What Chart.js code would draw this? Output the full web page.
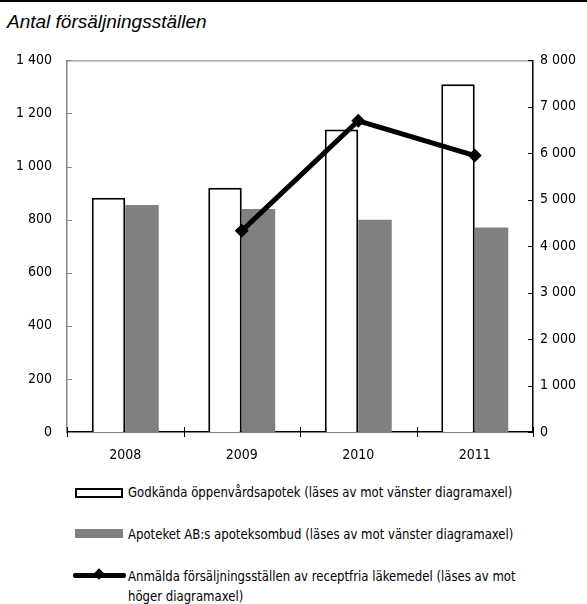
<!DOCTYPE html>
<html>
<head>
<meta charset="utf-8">
<script src="https://cdn.jsdelivr.net/npm/chart.js@4"></script>
<style>
  body { margin: 0; background: #fff; width: 587px; height: 604px; position: relative; overflow: hidden; }
  #topline { position: absolute; left: 0; top: 0; width: 587px; height: 2px; background: #000; }
  #title { position: absolute; left: 7px; top: 11px; font: italic 19px "Liberation Sans", Arial, sans-serif; color: #000; }
  #wrap { position: absolute; left: 0; top: 37px; width: 587px; height: 432px; }
  .lg { position: absolute; left: 128px; font: 14px "Liberation Sans Narrow", "DejaVu Sans Condensed", sans-serif; color: #000; line-height: 20px; white-space: nowrap; transform: scaleX(0.93); transform-origin: 0 0; }
  .sym { position: absolute; }
</style>
</head>
<body>
<div id="topline"></div>
<div id="title">Antal försäljningsställen</div>
<div id="wrap"><canvas id="chart"></canvas></div>

<div class="sym" style="left:75px;top:488px;width:44px;height:6px;border:2px solid #000;background:#fff"></div>
<div class="lg" style="top:482px">Godkända öppenvårdsapotek (läses av mot vänster diagramaxel)</div>

<div class="sym" style="left:75px;top:529px;width:48px;height:9px;background:#808080"></div>
<div class="lg" style="top:524px">Apoteket AB:s apoteksombud (läses av mot vänster diagramaxel)</div>

<div class="sym" style="left:73px;top:573px;width:53px;height:5px;background:#000;border-radius:2px"></div>
<div class="sym" style="left:95px;top:570px;width:8px;height:8px;background:#000;transform:rotate(45deg)"></div>
<div class="lg" style="top:566px">Anmälda försäljningsställen av receptfria läkemedel (läses av mot<br>höger diagramaxel)</div>

<script>
const years = ["2008", "2009", "2010", "2011"];
const apotek = [883, 920, 1140, 1310];
const ombud = [855, 840, 800, 770];
const anmalda = [null, 4330, 6700, 5950];

const leftTicks = [0, 200, 400, 600, 800, 1000, 1200, 1400];
const rightTicks = [0, 1000, 2000, 3000, 4000, 5000, 6000, 7000, 8000];

const tickFont = { family: "'Liberation Sans Narrow', 'DejaVu Sans Condensed', sans-serif", size: 14 };

function fmt(v) {
    return String(v).replace(/\B(?=(\d{3})+(?!\d))/g, " ");
}

// top frame line and the little inside tick marks
const frame = {
    id: 'frame',
    afterDatasetsDraw(chart) {
        const ctx = chart.ctx;
        const a = chart.chartArea;
        ctx.save();
        ctx.lineWidth = 1;
        ctx.strokeStyle = '#868686';
        ctx.beginPath();
        ctx.moveTo(a.left, a.top + 0.5);
        ctx.lineTo(a.right, a.top + 0.5);
        ctx.stroke();
        leftTicks.forEach(v => {
            const y = Math.round(chart.scales.y.getPixelForValue(v)) + 0.5;
            ctx.beginPath();
            ctx.moveTo(a.left, y);
            ctx.lineTo(a.left + 5, y);
            ctx.stroke();
        });
        ctx.strokeStyle = '#000';
        rightTicks.forEach(v => {
            const y = Math.round(chart.scales.y1.getPixelForValue(v)) + 0.5;
            ctx.beginPath();
            ctx.moveTo(a.right - 5, y);
            ctx.lineTo(a.right, y);
            ctx.stroke();
        });
        const xs = chart.scales.x;
        for (let i = 0; i <= years.length; i++) {
            const x = Math.round(xs.getPixelForValue(i - 0.5)) + 0.5;
            ctx.beginPath();
            ctx.moveTo(x, a.bottom - 5);
            ctx.lineTo(x, a.bottom + 5);
            ctx.stroke();
        }
        ctx.restore();
    }
};

new Chart(document.getElementById('chart'), {
    data: {
        labels: years,
        datasets: [
            {
                type: 'line',
                label: 'Anmälda försäljningsställen av receptfria läkemedel (läses av mot höger diagramaxel)',
                data: anmalda,
                yAxisID: 'y1',
                borderColor: '#000',
                backgroundColor: '#000',
                borderWidth: 5,
                pointStyle: 'rectRot',
                pointRadius: 7,
                pointBorderWidth: 0,
                tension: 0,
                order: 0
            },
            {
                type: 'bar',
                label: 'Godkända öppenvårdsapotek (läses av mot vänster diagramaxel)',
                data: apotek,
                yAxisID: 'y',
                backgroundColor: '#fff',
                borderColor: '#000',
                borderWidth: 2,
                categoryPercentage: 0.575,
                barPercentage: 1,
                order: 1
            },
            {
                type: 'bar',
                label: 'Apoteket AB:s apoteksombud (läses av mot vänster diagramaxel)',
                data: ombud,
                yAxisID: 'y',
                backgroundColor: '#808080',
                borderWidth: 0,
                categoryPercentage: 0.575,
                barPercentage: 1,
                order: 2
            }
        ]
    },
    options: {
        responsive: true,
        maintainAspectRatio: false,
        animation: false,
        layout: { padding: { top: 15, left: 0, right: 0, bottom: 0 } },
        plugins: {
            legend: { display: false },
            tooltip: { enabled: false }
        },
        scales: {
            x: {
                grid: { display: false, drawTicks: false },
                border: { color: '#000', width: 1.5 },
                ticks: { color: '#000', font: tickFont, padding: 15 },
                afterFit(s) { s.height = 37; }
            },
            y: {
                position: 'left',
                min: 0,
                max: 1400,
                afterBuildTicks(s) { s.ticks = leftTicks.map(v => ({ value: v })); },
                grid: { display: false, drawTicks: false },
                border: { color: '#868686', width: 1.5 },
                ticks: { color: '#000', font: tickFont, padding: 15, callback: v => fmt(v) },
                afterFit(s) { s.width = 67; }
            },
            y1: {
                position: 'right',
                min: 0,
                max: 8000,
                afterBuildTicks(s) { s.ticks = rightTicks.map(v => ({ value: v })); },
                grid: { display: false, drawTicks: false },
                border: { color: '#000', width: 1.5 },
                ticks: { color: '#000', font: tickFont, padding: 7, callback: v => fmt(v) },
                afterFit(s) { s.width = 54; }
            }
        }
    },
    plugins: [frame]
});
</script>
</body>
</html>
